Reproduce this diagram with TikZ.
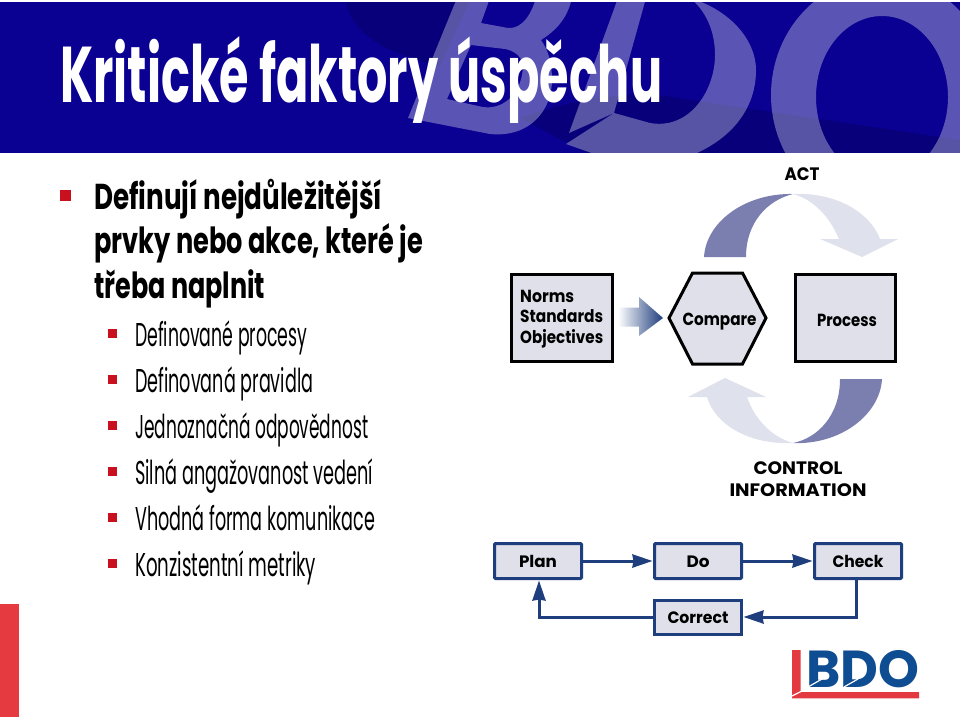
\documentclass[tikz,border=0pt]{standalone}
\usepackage{fontspec}
\usepackage{graphicx}
\usetikzlibrary{arrows.meta}
\newfontfamily\pop{Poppins}
\newsavebox\fitbox
\newlength\fitlen
\newcommand\fitw[2]{\sbox\fitbox{#2}\setlength\fitlen{\wd\fitbox}\pgfmathsetmacro\fitr{#1/\fitlen}\scalebox{\fitr}[1]{\usebox\fitbox}}
\newcommand\lowered[2]{\raisebox{#1}[0pt][0pt]{#2}}
\definecolor{hdr}{RGB}{10,0,145}
\definecolor{hdrdark}{RGB}{7,0,122}
\definecolor{bul}{RGB}{200,16,30}
\definecolor{boxfill}{RGB}{223,224,234}
\definecolor{arcdark}{RGB}{123,127,176}
\definecolor{arclight}{RGB}{223,225,236}
\definecolor{navy}{RGB}{30,62,125}
\definecolor{logoblue}{RGB}{15,77,146}
\definecolor{logored}{RGB}{226,58,64}
\definecolor{sidered}{RGB}{229,58,64}
\tikzset{
  mainline/.style={anchor=base west,inner sep=0pt,font=\pop\bfseries\fontsize{36}{36}\selectfont},
  subline/.style={anchor=base west,inner sep=0pt,font=\pop\fontsize{33}{33}\selectfont},
  bigbul/.style={fill=bul,draw=none},
  blocknode/.style={draw=black,line width=3pt,fill=boxfill,inner sep=0pt,outer sep=0pt,font=\pop\bfseries\fontsize{17.5}{17.5}\selectfont},
  lab/.style={inner sep=0pt,font=\pop\bfseries\fontsize{18}{18}\selectfont},
  pdca/.style={draw=navy,line width=3pt,fill=boxfill,rounded corners=1pt,inner sep=0pt,outer sep=0pt,font=\pop\bfseries\fontsize{16.5}{16.5}\selectfont,minimum width=87pt},
  conn/.style={draw=navy,line width=3pt,-{Stealth[length=20pt,width=13pt,inset=1pt]},shorten >=2pt},
  wm/.style={fill=white,fill opacity=.33,even odd rule,draw=none}
}
\begin{document}
\begin{tikzpicture}[x=1pt,y=-1pt]
\useasboundingbox (0,0) rectangle (960,720);
\fill[white] (0,0) rectangle (960,720);
% header
\begin{scope}
\clip (0,2.5) rectangle (960,152);
\fill[hdr] (0,0) rectangle (960,160);
\fill[hdrdark] (345,0) .. controls (352,30) and (375,50) .. (440,66) -- (470,0) -- cycle;
\fill[hdrdark] (520,118) .. controls (570,100) and (620,92) .. (658,95) -- (960,140) -- (960,160) -- (600,160) -- cycle;
% B
\path[wm] (457,-2) -- (408,118) -- (490,134) .. controls (530,138) and (552,110) .. (552,80) .. controls (552,62) and (548,50) .. (541,40) .. controls (560,28) and (568,15) .. (572,-2) -- cycle
 (490,-2) -- (481,23) -- (508,28) .. controls (522,29) and (531,15) .. (536,-2) -- cycle
 (471,45) -- (505,49) .. controls (520,52) and (525,62) .. (522,75) .. controls (518,97) and (500,112) .. (478,106) -- (447,99) -- cycle;
% D
\path[wm] (618,-2) -- (569,133) -- (614,113) -- (646,-2) -- cycle;
\path[wm] (690,-2) .. controls (730,10) and (756,40) .. (756,70) .. controls (756,110) and (730,140) .. (690,156) -- (600,156) -- (566,144) -- (614,113) -- (650,123) .. controls (690,130) and (715,90) .. (715,55) .. controls (715,30) and (705,10) .. (690,-2) -- cycle;
% O
\path[wm] (882,95) ellipse [x radius=111,y radius=118] (882,97) ellipse [x radius=66,y radius=81];
\end{scope}
\node[anchor=base west,inner sep=0pt,text=white,font=\pop\bfseries\fontsize{79}{79}\selectfont] (title) at (60,102) {\fitw{602}{Kritické faktory úspěchu}};
% side bar
\fill[sidered] (0,604) rectangle (19,717);
% bullets
\fill[bigbul] (60,190) rectangle (71,201);
\node[mainline] (m1) at (94,209) {\fitw{288}{Definují nejdůležitější}};
\node[mainline] (m2) at (94,253) {\fitw{329}{prvky nebo akce, které je}};
\node[mainline] (m3) at (94,298) {\fitw{171}{třeba naplnit}};
\foreach \yy in {329,375,421,467,513,559} \fill[bigbul] (108,\yy) rectangle (117,\yy+9);
\node[subline] (s1) at (135,346) {\fitw{172}{Definované procesy}};
\node[subline] (s2) at (135,392) {\fitw{178}{Definovaná pravidla}};
\node[subline] (s3) at (135,438) {\fitw{233}{Jednoznačná odpovědnost}};
\node[subline] (s4) at (135,484) {\fitw{238}{Silná angažovanost vedení}};
\node[subline] (s5) at (135,530) {\fitw{240}{Vhodná forma komunikace}};
\node[subline] (s6) at (135,576) {\fitw{181}{Konzistentní metriky}};
% top diagram
\node[blocknode,minimum width=101pt,minimum height=87pt] (norms) at (562,317.5) {};
\node[lab,anchor=base west,font=\pop\bfseries\fontsize{17.5}{17.5}\selectfont] (n1) at (520,302) {\fitw{54}{Norms}};
\node[lab,anchor=base west,font=\pop\bfseries\fontsize{17.5}{17.5}\selectfont] (n2) at (520,322) {\fitw{83}{Standards}};
\node[lab,anchor=base west,font=\pop\bfseries\fontsize{17.5}{17.5}\selectfont] (n3) at (520,343) {\fitw{83}{Objectives}};
\draw[line width=3pt,fill=boxfill,line join=miter] (669,318) -- (692.5,273) -- (742.5,273) -- (766,318) -- (742.5,364) -- (692.5,364) -- cycle;
\node[lab,anchor=base,font=\pop\bfseries\fontsize{17.5}{17.5}\selectfont] (compare) at (719.5,325) {\fitw{74}{Compare}};
\node[blocknode,minimum width=100pt,minimum height=87pt] (process) at (845.5,317.5) {};
\node[lab,anchor=base,font=\pop\bfseries\fontsize{17.5}{17.5}\selectfont] (proclab) at (847,326) {\fitw{60}{Process}};
\shade[left color=white,right color=navy,shading angle=90] (618,307.5) -- (639,307.5) -- (639,297) -- (663,318) -- (639,336) -- (639,326.5) -- (618,326.5) -- cycle;
% cycle arrows
\fill[arcdark] (704,257) .. controls (706,222) and (745,193) .. (793,194) .. controls (768,200) and (746,222) .. (746,257) -- cycle;
\fill[arclight] (793,194) .. controls (835,192) and (870,212) .. (880,239) -- (898,239) -- (862,257) -- (820,239) -- (839,239) .. controls (830,218) and (815,200) .. (793,194) -- cycle;
\fill[arcdark] (882,379) .. controls (880,415) and (840,445) .. (793,443) .. controls (818,438) and (840,415) .. (840,379) -- cycle;
\fill[arclight] (793,443) .. controls (750,445) and (715,425) .. (707,397) -- (688,397) -- (725,378) -- (766,397) -- (747,397) .. controls (755,420) and (772,437) .. (793,443) -- cycle;
\node[lab] (act) at (802,174) {\fitw{35}{ACT}};
\node[lab] (ctl) at (798,468) {\fitw{89}{CONTROL}};
\node[lab] (inf) at (798,490) {\fitw{137}{INFORMATION}};
% PDCA
\node[pdca,minimum height=35pt] (plan) at (538,561) {\lowered{-6.5pt}{\fitw{38}{Plan}}};
\node[pdca,minimum height=35pt] (do) at (698,561) {\lowered{-6.5pt}{\fitw{23}{Do}}};
\node[pdca,minimum height=35pt] (check) at (858,561) {\lowered{-6.5pt}{\fitw{51}{Check}}};
\node[pdca,minimum height=34pt,rounded corners=0pt] (correct) at (698,617) {\lowered{-6.5pt}{\fitw{61}{Correct}}};
\draw[conn] (plan) -- (do);
\draw[conn] (do) -- (check);
\draw[conn] ([xshift=-2pt]check.south) |- (correct.east);
\draw[conn] (correct.west) -| ([xshift=1pt]plan.south);
% logo
\fill[logored] (792,650) -- (800.7,650) -- (800.7,692) -- (919,692) -- (919,698.3) -- (792,698.3) -- cycle;
\draw[white,line width=1.2pt] (792,696) -- (801,691.5);
\node[anchor=base west,inner sep=0pt,text=logoblue,font=\pop\bfseries\fontsize{52}{52}\selectfont] (logo) at (806,687) {\fitw{113}{BDO}};
\draw[white,line width=1.2pt] (808,687) -- (822,679) (844,687) -- (858,679);
\end{tikzpicture}
\end{document}
